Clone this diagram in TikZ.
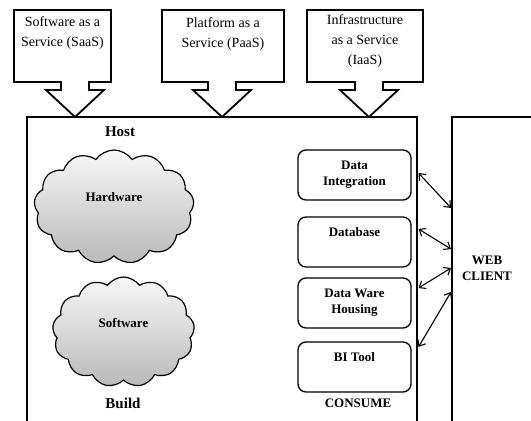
\documentclass[tikz,border=0pt]{standalone}
\usepackage{fontspec}
\setmainfont{Liberation Serif}
\usetikzlibrary{shapes.symbols,arrows.meta}
\begin{document}
\begin{tikzpicture}[x=1pt,y=-1pt,
  callout/.style={draw,line width=1.8pt,fill=white,line join=miter},
  calltext/.style={inner sep=0pt,anchor=north,align=center,font=\fontsize{14}{20}\selectfont},
  frame/.style={line width=2pt},
  unit/.style={draw,line width=1.3pt,rounded corners=8pt,minimum width=113pt,minimum height=50pt,inner sep=0pt,align=center,font=\bfseries\fontsize{13}{16}\selectfont},
  cloudnode/.style={cloud,draw,line width=1.2pt,cloud puffs=13,cloud puff arc=110,top color=gray!6,bottom color=gray!55,inner sep=0pt},
  lbl/.style={font=\bfseries\fontsize{13}{16}\selectfont,align=center,inner sep=0pt},
  big/.style={font=\bfseries\fontsize{15}{18}\selectfont,inner sep=0pt},
  link/.style={line width=1.1pt,{Straight Barb[length=5.5pt,width=9pt]}-{Straight Barb[length=5.5pt,width=9pt]}}
]
\useasboundingbox (0,0) rectangle (531,421);

% service callouts
\draw[callout] (14,10) -- (111,10) -- (111,82) -- (89,82) -- (89,90) -- (104,90) -- (75,117) -- (46,90) -- (61,90) -- (61,82) -- (14,82) -- cycle;
\node[calltext] (saas) at (62.5,16) {Software as a\\Service (SaaS)};

\draw[callout] (162,10) -- (284,10) -- (284,82) -- (236,82) -- (236,90) -- (251,90) -- (222,117) -- (193,90) -- (208,90) -- (208,82) -- (162,82) -- cycle;
\node[calltext] (paas) at (223,17) {Platform as a\\Service (PaaS)};

\draw[callout] (307,10) -- (423,10) -- (423,82) -- (383,82) -- (383,90) -- (398,90) -- (369,117) -- (340,90) -- (355,90) -- (355,82) -- (307,82) -- cycle;
\node[calltext] (iaas) at (365,14) {Infrastructure\\as a Service\\(IaaS)};

% host frame
\draw[frame] (27,440) -- (27,117) -- (417,117) -- (417,440);
% web client frame
\draw[frame] (452,440) -- (452,117) -- (545,117);

\node[big] (host) at (120,132) {Host};
\node[big] (build) at (123,403) {Build};
\node[lbl] (consume) at (358,403) {CONSUME};
\node[lbl] (web) at (487,268) {WEB\\CLIENT};

% clouds
\node[cloudnode,minimum width=160pt,minimum height=114pt] (hw) at (114,207) {};
\node[lbl] at ([yshift=10pt]hw.center) {Hardware};
\node[cloudnode,minimum width=142pt,minimum height=110pt] (sw) at (123.5,332) {};
\node[lbl] at ([yshift=9pt]sw.center) {Software};

% consume units
\node[unit] (di) at (354.5,175) {Data\\Integration};
\node[unit] (db) at (354.5,242) {Database\\\strut};
\node[unit] (dw) at (354.5,303) {Data Ware\\Housing};
\node[unit] (bi) at (354.5,367) {BI Tool\\\strut};

% link ends
\coordinate (h1) at (418.5,173);
\coordinate (h2) at (418.5,229);
\coordinate (h3) at (418.5,288);
\coordinate (h4) at (418.5,347);
\coordinate (w1) at (451,208);
\coordinate (w2) at (451,249);
\coordinate (w3) at (451,268);
\coordinate (w4) at (451,292);
\draw[link] (h1) -- (w1);
\draw[link] (h2) -- (w2);
\draw[link] (h3) -- (w3);
\draw[link] (h4) -- (w4);
\end{tikzpicture}
\end{document}
